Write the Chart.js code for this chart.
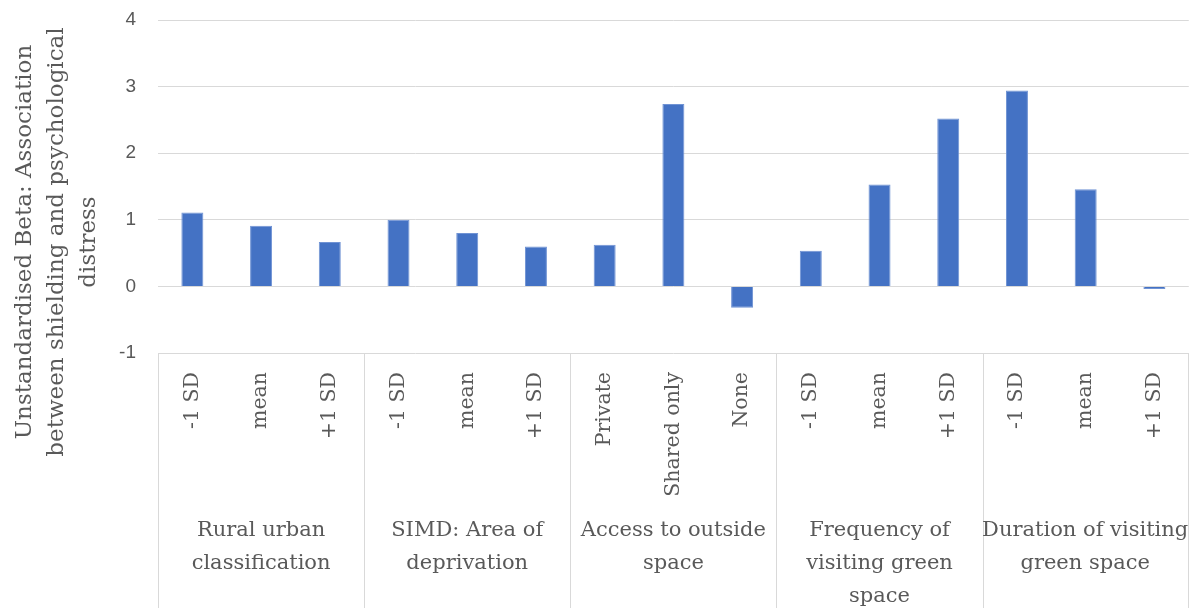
<!DOCTYPE html>
<html>
<head>
<meta charset="utf-8">
<script src="https://cdn.jsdelivr.net/npm/chart.js@4.4.1/dist/chart.umd.min.js"></script>
<style>
  html, body { margin: 0; padding: 0; background: #fff; overflow: hidden; }
  #wrap { width: 1190px; height: 608px; position: relative; }
  canvas { display: block; }
</style>
</head>
<body>
<div id="wrap"><canvas id="myChart"></canvas></div>
<script>
// données
const subLabels = ["-1 SD", "mean", "+1 SD", "-1 SD", "mean", "+1 SD", "Private", "Shared only", "None",
  "-1 SD", "mean", "+1 SD", "-1 SD", "mean", "+1 SD"];
const groupLabels = [
  ["Rural urban", "classification"],
  ["SIMD: Area of", "deprivation"],
  ["Access to outside", "space"],
  ["Frequency of", "visiting green", "space"],
  ["Duration of visiting", "green space"]
];
const betaValues = [1.11, 0.91, 0.665, 1.0, 0.8, 0.6, 0.625, 2.74, -0.32, 0.535, 1.53, 2.52, 2.94, 1.46, -0.04];
const yTitle = ["Unstandardised Beta: Association", "between shielding and psychological", "distress"];
const yMin = -1, yMax = 4;

const grey = "#595959";
const lineGrey = "#d9d9d9";
const serif = "'DejaVu Serif', serif";

// axe des catégories à deux niveaux + titre de l'axe Y
const groupAxis = {
  id: "groupAxis",
  afterDraw(chart) {
    const ctx = chart.ctx;
    const x = chart.scales.x;
    const area = chart.chartArea;
    const per = 3;
    const bounds = [area.left];
    for (let g = 1; g < groupLabels.length; g++) {
      bounds.push((x.getPixelForValue(g * per - 1) + x.getPixelForValue(g * per)) / 2);
    }
    bounds.push(area.right - 1);

    ctx.save();
    ctx.strokeStyle = lineGrey;
    ctx.lineWidth = 1;
    bounds.forEach(function (b) {
      ctx.beginPath();
      ctx.moveTo(Math.round(b) + 0.5, area.bottom);
      ctx.lineTo(Math.round(b) + 0.5, chart.height);
      ctx.stroke();
    });

    ctx.fillStyle = grey;
    ctx.font = "21px " + serif;
    ctx.textAlign = "center";
    ctx.textBaseline = "middle";
    groupLabels.forEach(function (lines, g) {
      const cx = (bounds[g] + bounds[g + 1]) / 2;
      lines.forEach(function (t, i) {
        ctx.fillText(t, cx, 531 + i * 33);
      });
    });

    // titre de l'axe Y (3 lignes)
    ctx.font = "23px " + serif;
    ctx.translate(0, 242);
    ctx.rotate(-Math.PI / 2);
    yTitle.forEach(function (t, i) {
      ctx.fillText(t, 0, 25 + i * 32);
    });
    ctx.restore();
  }
};

const data = {
  labels: subLabels,
  datasets: [{
    label: "Beta",
    data: betaValues,
    backgroundColor: "#4472C4",
    borderColor: "#7093d4",
    borderWidth: 1,
    barPercentage: 0.32,
    categoryPercentage: 1
  }]
};

const config = {
  type: "bar",
  data: data,
  options: {
    responsive: true,
    maintainAspectRatio: false,
    animation: false,
    layout: { padding: { top: 20, right: 0, bottom: 0, left: 0 } },
    plugins: {
      legend: { display: false },
      tooltip: { enabled: false }
    },
    scales: {
      x: {
        grid: { display: false },
        border: { display: false },
        ticks: {
          color: grey,
          font: { family: serif, size: 20.5 },
          minRotation: 90,
          maxRotation: 90,
          padding: 11,
          autoSkip: false
        },
        afterFit: function (scale) { scale.height = 255; }
      },
      y: {
        min: yMin,
        max: yMax,
        // petits traits invisibles = espace entre chiffres et grille
        grid: { color: lineGrey, drawTicks: true, tickLength: 22, tickColor: "rgba(0,0,0,0)" },
        border: { display: false },
        ticks: {
          stepSize: 1,
          color: grey,
          font: { family: "'Liberation Sans', sans-serif", size: 19 },
          padding: 0
        },
        afterFit: function (scale) { scale.width = 158; }
      }
    }
  },
  plugins: [groupAxis]
};

let context = document.getElementById("myChart").getContext("2d");
let chart = new Chart(context, config);
</script>
</body>
</html>
